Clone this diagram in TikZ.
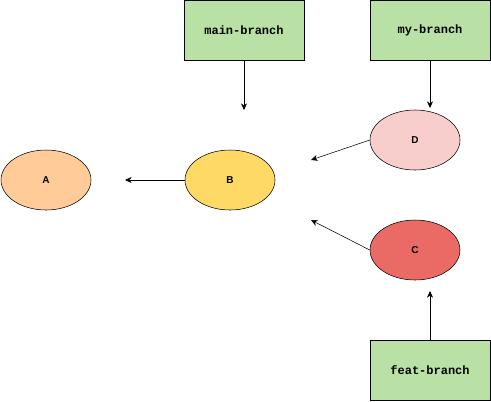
\documentclass[tikz,border=0pt]{standalone}
\usepackage{fontspec}
\setmainfont{Liberation Sans}
\setmonofont{Liberation Mono}
\usetikzlibrary{shapes.geometric,arrows.meta}
\definecolor{branchgreen}{HTML}{B9E0A5}
\definecolor{commitA}{HTML}{FFCC99}
\definecolor{commitB}{HTML}{FFD966}
\definecolor{commitC}{HTML}{EA6B66}
\definecolor{commitD}{HTML}{F8CECC}
\begin{document}
\begin{tikzpicture}[x=0.75pt, y=-0.75pt,
  every node/.style={font=\fontsize{7.5}{9}\selectfont\bfseries},
  branch/.style={draw, fill=branchgreen, minimum width=90pt, minimum height=45pt, font=\fontsize{9}{11}\selectfont\ttfamily\bfseries},
  commit/.style={draw, ellipse, minimum width=67.5pt, minimum height=45pt},
  link/.style={-{Stealth[length=5pt,width=4.5pt]}}]
  \useasboundingbox (0,0) rectangle (491,401);
  % branches
  \node[branch] (main) at (244,30) {main-branch};
  \node[branch] (my) at (430,30) {my-branch};
  \node[branch] (feat) at (430,370) {feat-branch};
  % commits
  \node[commit, fill=commitA] (A) at (46,180) {A};
  \node[commit, fill=commitB] (B) at (230,180) {B};
  \node[commit, fill=commitD] (D) at (415,140) {D};
  \node[commit, fill=commitC] (C) at (415,250) {C};
  % free arrow ends
  \coordinate (toA) at (125,180);
  \coordinate (toB) at (244,110);
  \coordinate (toD) at (430,108);
  \coordinate (fromD) at (311,160);
  \coordinate (fromC) at (311,220);
  \coordinate (toC) at (430,291);
  \draw[link] (B.west) -- (toA);
  \draw[link] (main.south) -- (toB);
  \draw[link] (my.south) -- (toD);
  \draw[link] (D.west) -- (fromD);
  \draw[link] (C.west) -- (fromC);
  \draw[link] (feat.north) -- (toC);
\end{tikzpicture}
\end{document}
